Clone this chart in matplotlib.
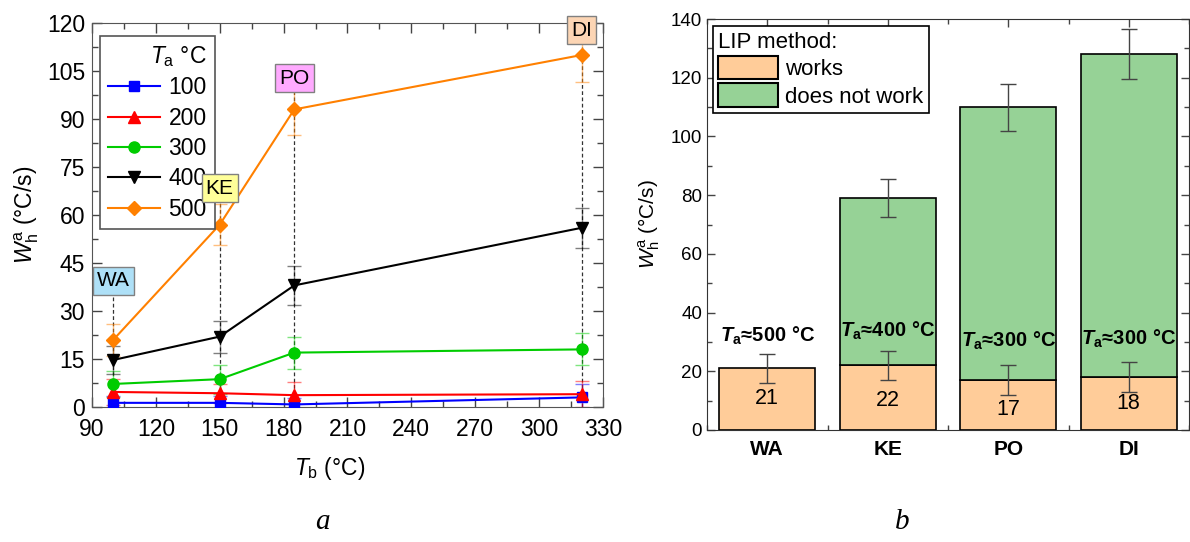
import numpy as np
import matplotlib.pyplot as plt
from matplotlib.ticker import MultipleLocator
from matplotlib.patches import Patch

plt.rcParams['font.family'] = ['Liberation Sans', 'DejaVu Sans']
plt.rcParams['mathtext.fontset'] = 'custom'
plt.rcParams['mathtext.rm'] = 'Liberation Sans'
plt.rcParams['mathtext.it'] = 'Liberation Sans:italic'
plt.rcParams['mathtext.bf'] = 'Liberation Sans:bold'
plt.rcParams['mathtext.bfit'] = 'Liberation Sans:italic:bold'

# ---- panel a: W_h^a vs boiling point, one curve per T_a ----
tb = [100, 150, 185, 320]
liquids = ['WA', 'KE', 'PO', 'DI']
liquid_y = [39.4, 68.4, 102.8, 117.8]
liquid_box = ['#aee0f7', '#ffff99', '#ffaaff', '#fcd5b4']

ta_labels = ['100', '200', '300', '400', '500']
wh_100 = [1.3, 1.3, 0.8, 3.0]
wh_200 = [4.7, 4.3, 3.7, 4.0]
wh_300 = [7.2, 8.7, 17.0, 18.0]
wh_400 = [14.7, 22.0, 38.0, 56.0]
wh_500 = [21.0, 57.0, 93.0, 110.0]
err_100 = [2.0, 2.0, 2.0, 4.2]
err_200 = [4.0, 3.0, 4.0, 4.0]
err_300 = [4.0, 4.5, 5.0, 5.0]
err_400 = [4.3, 5.0, 6.0, 6.2]
err_500 = [5.0, 6.5, 8.0, 8.5]

# ---- panel b: stacked bars ----
cats = ['WA', 'KE', 'PO', 'DI']
works = [21, 22, 17, 18]
works_err = [5, 5, 5, 5]
fail_total = [None, 79, 110, 128]
fail_err = [None, 6.5, 8, 8.5]
ta_note = ['500', '400', '300', '300']
note_y = [32, 33.7, 30.3, 31]
works_label_y = [10.9, 10.2, 7.0, 8.9]

fig = plt.figure(figsize=(11.9, 5.42), dpi=100)
ax = fig.add_axes([92/1190, 1-407/542, 511/1190, 384/542])
ax2 = fig.add_axes([707/1190, 1-430/542, 482/1190, 411/542])

series = [(wh_100, err_100, 'blue', 's', 7),
          (wh_200, err_200, 'red', '^', 8),
          (wh_300, err_300, '#00cc00', 'o', 8),
          (wh_400, err_400, 'black', 'v', 9),
          (wh_500, err_500, '#ff8000', 'D', 7)]

for i, x in enumerate(tb):
    ax.vlines(x, 0, liquid_y[i], colors='#333333', linestyles=(0, (3, 2)),
              lw=0.9, zorder=1)
    ax.text(x, liquid_y[i], liquids[i], ha='center', va='center', fontsize=15,
            zorder=6,
            bbox=dict(boxstyle='square,pad=0.2', fc=liquid_box[i], ec='#808080', lw=1))

for (vals, errs, col, mk, ms), lab in zip(series, ta_labels):
    ax.errorbar(tb, vals, yerr=errs, fmt='none', ecolor=col, alpha=0.5,
                elinewidth=1, capsize=5, capthick=1, zorder=2)
    ax.plot(tb, vals, color=col, marker=mk, ms=ms, lw=1.5, label=lab, zorder=3)

ax.set_xlim(90, 330)
ax.set_ylim(0, 120)
ax.xaxis.set_major_locator(MultipleLocator(30))
ax.xaxis.set_minor_locator(MultipleLocator(15))
ax.yaxis.set_major_locator(MultipleLocator(15))
ax.yaxis.set_minor_locator(MultipleLocator(7.5))
ax.tick_params(which='both', direction='in', top=True, right=True, labelsize=16.5,
               color='#444444')
ax.tick_params(which='major', length=7, width=1)
ax.tick_params(which='minor', length=4, width=1)
ax.tick_params(axis='x', pad=8)
ax.tick_params(axis='y', pad=5)
for s in ax.spines.values():
    s.set_color('#555555')
ax.set_xlabel(r'$T_\mathrm{b}$ (°C)', fontsize=16.5)
ax.xaxis.set_label_coords(0.466, -0.125)
ax.set_ylabel(r'$W_\mathrm{h}^\mathrm{a}$ (°C/s)', fontsize=16.5, labelpad=4)
leg = ax.legend(title=r'$T_\mathrm{a}$ °C', loc='upper left',
                bbox_to_anchor=(0.015, 0.966), fontsize=16.5, title_fontsize=16.5,
                frameon=True, fancybox=False, edgecolor='#555555', framealpha=1,
                handlelength=2.3, handletextpad=0.35, labelspacing=0.32,
                borderpad=0.35, borderaxespad=0, alignment='right')
leg.get_frame().set_linewidth(1.2)

# panel b
x = np.arange(len(cats))
ax2.bar(x, works, width=0.8, color='#ffcc99', edgecolor='black', lw=1.2, zorder=2)
fx = [i for i in x if fail_total[i] is not None]
fbot = [works[i] for i in fx]
fh = [fail_total[i] - works[i] for i in fx]
ax2.bar(fx, fh, bottom=fbot, width=0.8, color='#96d296', edgecolor='black',
        lw=1.2, zorder=2)
ax2.errorbar(x, works, yerr=works_err, fmt='none', ecolor='#444444', elinewidth=1,
             capsize=6, capthick=1, zorder=3)
ax2.errorbar(fx, [fail_total[i] for i in fx], yerr=[fail_err[i] for i in fx],
             fmt='none', ecolor='#444444', elinewidth=1, capsize=6, capthick=1,
             zorder=3)
for i in x:
    ax2.text(i, works_label_y[i], str(works[i]), ha='center', va='center',
             fontsize=15.5, zorder=4)
    ax2.text(i, note_y[i], r'$\mathbfit{T}_\mathbf{a}$≈' + ta_note[i] + ' °C',
             ha='center', va='center', fontsize=14.5, fontweight='bold', zorder=4)

ax2.set_xlim(-0.5, 3.5)
ax2.set_ylim(0, 140)
ax2.set_xticks(x)
ax2.set_xticklabels(cats, fontweight='bold', fontsize=15)
ax2.xaxis.set_minor_locator(MultipleLocator(0.5))
ax2.yaxis.set_major_locator(MultipleLocator(20))
ax2.yaxis.set_minor_locator(MultipleLocator(10))
ax2.tick_params(which='both', direction='in', top=True, right=True, color='#444444')
ax2.tick_params(axis='y', labelsize=13.5)
ax2.tick_params(which='major', length=6, width=1)
ax2.tick_params(which='minor', length=3.5, width=1)
ax2.tick_params(axis='x', pad=7)
for s in ax2.spines.values():
    s.set_color('#333333')
ax2.set_ylabel(r'$W_\mathrm{h}^\mathrm{a}$ (°C/s)', fontsize=15, labelpad=6)
handles = [Patch(fc='#ffcc99', ec='black', lw=1.5, label='works'),
           Patch(fc='#96d296', ec='black', lw=1.5, label='does not work')]
leg2 = ax2.legend(handles=handles, title='LIP method:', loc='upper left',
                  bbox_to_anchor=(0.012, 0.983), fontsize=16, title_fontsize=16,
                  frameon=True, fancybox=False, edgecolor='black', framealpha=1,
                  handlelength=2.7, handleheight=1.25, handletextpad=0.3,
                  labelspacing=0.15, borderpad=0.25, borderaxespad=0,
                  alignment='left')
leg2.get_frame().set_linewidth(1.2)

fig.text(322/1190, 1-522/542, 'a', fontsize=21, style='italic',
         family='Liberation Serif', ha='center', va='center')
fig.text(902/1190, 1-522/542, 'b', fontsize=21, style='italic',
         family='Liberation Serif', ha='center', va='center')

fig.savefig('out.png', dpi=100)
